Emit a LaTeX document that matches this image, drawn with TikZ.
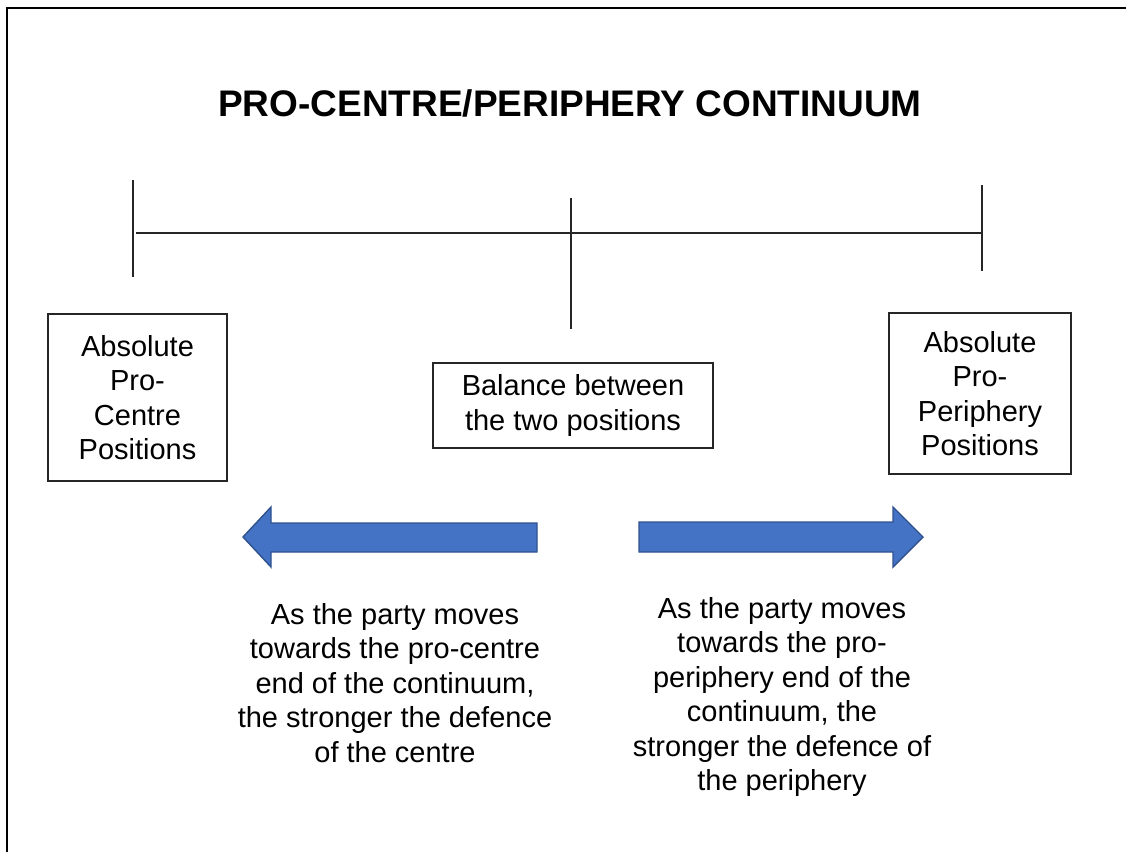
\documentclass[tikz,border=0pt]{standalone}
\usepackage{fontspec}
\setmainfont{Liberation Sans}
\begin{document}
\begin{tikzpicture}[x=1pt,y=-1pt,
  body/.style={font=\fontsize{29}{34.5}\selectfont, align=center, inner sep=0pt},
  posbox/.style={draw=black!85, line width=1.1pt, body},
  scaleline/.style={draw=black!85, line width=1.3pt},
  bigarrow/.style={fill=arrowfill, draw=arrowedge, line width=1.4pt, line join=miter}]
\definecolor{arrowfill}{HTML}{4472C4}
\definecolor{arrowedge}{HTML}{2F528F}
\useasboundingbox (0,0) rectangle (1126,852);
% frame edges
\draw[line width=1.6pt] (7,852) -- (7,8) -- (1126,8);
% title
\node[font=\bfseries\fontsize{37}{44}\selectfont] (title) at (570,103) {PRO-CENTRE/PERIPHERY CONTINUUM};
% continuum scale
\coordinate (lt) at (133,180); \coordinate (lb) at (133,277);
\coordinate (mt) at (571,198); \coordinate (mb) at (571,329);
\coordinate (rt) at (982,185); \coordinate (rb) at (982,271);
\coordinate (hl) at (136,233); \coordinate (hr) at (982,233);
\draw[scaleline] (lt) -- (lb);
\draw[scaleline] (mt) -- (mb);
\draw[scaleline] (rt) -- (rb);
\draw[scaleline] (hl) -- (hr);
% position boxes
\node[posbox, minimum width=179pt, minimum height=167pt] (left) at (137.5,397.5)
  {Absolute\\Pro-\\Centre\\Positions};
\node[posbox, minimum width=280pt, minimum height=85pt] (mid) at (573,405.5)
  {Balance between\\the two positions};
\node[posbox, minimum width=182pt, minimum height=161pt] (right) at (980,393.5)
  {Absolute\\Pro-\\Periphery\\Positions};
% direction arrows
\draw[bigarrow] (537,523) -- (271,523) -- (271,507) -- (243,537) -- (271,567) -- (271,552) -- (537,552) -- cycle;
\draw[bigarrow] (639,522) -- (893,522) -- (893,507) -- (923,537) -- (893,567) -- (893,552) -- (639,552) -- cycle;
% explanations
\node[body] (lefttext) at (395,683)
  {As the party moves\\towards the pro-centre\\end of the continuum,\\the stronger the defence\\of the centre};
\node[body] (righttext) at (782,697)
  {As the party moves\\towards the pro-\\periphery end of the\\continuum, the\\stronger the defence of\\the periphery};
\end{tikzpicture}
\end{document}
